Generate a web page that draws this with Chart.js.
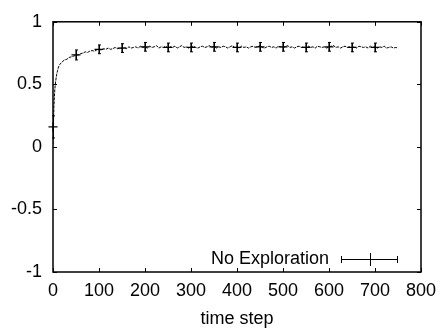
<!DOCTYPE html>
<html>
<head>
<meta charset="utf-8">
<script src="https://cdn.jsdelivr.net/npm/chart.js@4"></script>
<style>
  html, body { margin: 0; padding: 0; background: #fff; }
  #wrap { width: 445px; height: 332px; }
</style>
</head>
<body>
<div id="wrap"><canvas id="chart" width="445" height="332"></canvas></div>
<script>
// averaged reward curve (time step, value)
const curveSteps = [0, 1, 2, 3, 4, 5, 6, 8, 10, 12, 15, 20, 25, 30, 35, 40, 45, 50,
  55, 60, 65, 70, 75, 80, 85, 90, 95, 100, 105, 110, 115, 120, 125, 130, 135, 140, 145, 150,
  155, 160, 165, 170, 175, 180, 185, 190, 195, 200, 205, 210, 215, 220, 225, 230, 235, 240, 245, 250,
  255, 260, 265, 270, 275, 280, 285, 290, 295, 300, 305, 310, 315, 320, 325, 330, 335, 340, 345, 350,
  355, 360, 365, 370, 375, 380, 385, 390, 395, 400, 405, 410, 415, 420, 425, 430, 435, 440, 445, 450,
  455, 460, 465, 470, 475, 480, 485, 490, 495, 500, 505, 510, 515, 520, 525, 530, 535, 540, 545, 550,
  555, 560, 565, 570, 575, 580, 585, 590, 595, 600, 605, 610, 615, 620, 625, 630, 635, 640, 645, 650,
  655, 660, 665, 670, 675, 680, 685, 690, 695, 700, 705, 710, 715, 720, 725, 730, 735, 740, 745, 750];
const curveValues = [0.02, 0.20, 0.32, 0.40, 0.46, 0.50, 0.53, 0.58, 0.61, 0.64, 0.66, 0.68, 0.695, 0.70, 0.715, 0.72, 0.725, 0.735,
  0.735, 0.745, 0.75, 0.76, 0.755, 0.765, 0.77, 0.765, 0.775, 0.78, 0.775, 0.785, 0.78, 0.79, 0.78, 0.785, 0.795, 0.785, 0.79, 0.79,
  0.795, 0.785, 0.80, 0.79, 0.795, 0.80, 0.79, 0.805, 0.795, 0.80, 0.79, 0.805, 0.795, 0.80, 0.81, 0.79, 0.80, 0.795, 0.805, 0.79,
  0.80, 0.795, 0.805, 0.79, 0.80, 0.81, 0.795, 0.80, 0.79, 0.80, 0.805, 0.795, 0.79, 0.80, 0.805, 0.795, 0.80, 0.81, 0.795, 0.805,
  0.79, 0.80, 0.795, 0.805, 0.80, 0.79, 0.80, 0.81, 0.795, 0.80, 0.79, 0.805, 0.795, 0.80, 0.79, 0.80, 0.805, 0.795, 0.80, 0.81,
  0.795, 0.79, 0.80, 0.805, 0.795, 0.80, 0.79, 0.805, 0.80, 0.795, 0.80, 0.81, 0.795, 0.80, 0.79, 0.80, 0.805, 0.795, 0.80, 0.79,
  0.805, 0.795, 0.80, 0.79, 0.805, 0.80, 0.795, 0.80, 0.79, 0.80, 0.805, 0.81, 0.795, 0.80, 0.79, 0.80, 0.805, 0.795, 0.80, 0.795,
  0.80, 0.79, 0.805, 0.80, 0.795, 0.80, 0.79, 0.805, 0.795, 0.80, 0.79, 0.80, 0.795, 0.805, 0.79, 0.795, 0.80, 0.79, 0.795, 0.79];

// error bar samples every 50 steps
const barSteps = [0, 50, 100, 150, 200, 250, 300, 350, 400, 450, 500, 550, 600, 650, 700];
const barValues = [0.16, 0.735, 0.78, 0.79, 0.80, 0.795, 0.795, 0.80, 0.795, 0.80, 0.80, 0.795, 0.80, 0.795, 0.795];
const barErrors = [0.088, 0.04, 0.035, 0.035, 0.035, 0.035, 0.035, 0.035, 0.035, 0.035, 0.035, 0.035, 0.035, 0.035, 0.035];

const xTicks = [0, 100, 200, 300, 400, 500, 600, 700, 800];
const yTicks = [-1, -0.5, 0, 0.5, 1];
const seriesName = "No Exploration";

const FONT = { family: "'Liberation Sans', Arial, sans-serif", size: 18 };

const curveData = curveSteps.map((s, i) => ({ x: s, y: curveValues[i] }));
const barData = barSteps.map((s, i) => ({ x: s, y: barValues[i] }));

// gnuplot-like frame, inward ticks, error bars and key
const gnuplotLook = {
  id: "gnuplotLook",
  afterDatasetsDraw(chart) {
    const { ctx, chartArea: a, scales } = chart;
    const xs = scales.x, ys = scales.y;
    ctx.save();
    ctx.strokeStyle = "#000";
    ctx.lineWidth = 1;
    // error bars
    barSteps.forEach((s, i) => {
      const px = Math.round(xs.getPixelForValue(s)) + 0.5;
      const top = ys.getPixelForValue(barValues[i] + barErrors[i]);
      const bot = ys.getPixelForValue(barValues[i] - barErrors[i]);
      ctx.beginPath();
      ctx.moveTo(px, top); ctx.lineTo(px, bot);
      ctx.moveTo(px - 1.5, top); ctx.lineTo(px + 1.5, top);
      ctx.moveTo(px - 1.5, bot); ctx.lineTo(px + 1.5, bot);
      ctx.stroke();
    });
    // ticks on all four sides
    const tl = 4;
    ctx.beginPath();
    xTicks.forEach(v => {
      const px = Math.round(xs.getPixelForValue(v)) + 0.5;
      ctx.moveTo(px, a.bottom); ctx.lineTo(px, a.bottom - tl);
      ctx.moveTo(px, a.top); ctx.lineTo(px, a.top + tl);
    });
    yTicks.forEach(v => {
      const py = Math.round(ys.getPixelForValue(v)) + 0.5;
      ctx.moveTo(a.left, py); ctx.lineTo(a.left + tl, py);
      ctx.moveTo(a.right, py); ctx.lineTo(a.right - tl, py);
    });
    ctx.stroke();
    // frame
    ctx.lineWidth = 1.5;
    ctx.strokeRect(a.left, a.top, a.right - a.left, a.bottom - a.top);
    // key
    const ky = 259;
    ctx.fillStyle = "#000";
    ctx.font = FONT.size + "px " + FONT.family;
    ctx.textAlign = "right";
    ctx.textBaseline = "middle";
    ctx.fillText(seriesName, 329, ky);
    ctx.lineWidth = 1;
    ctx.beginPath();
    ctx.moveTo(341, ky + 0.5); ctx.lineTo(398, ky + 0.5);
    ctx.moveTo(341.5, ky - 3); ctx.lineTo(341.5, ky + 4);
    ctx.moveTo(397.5, ky - 3); ctx.lineTo(397.5, ky + 4);
    ctx.moveTo(370.5, ky - 6); ctx.lineTo(370.5, ky + 7);
    ctx.stroke();
    ctx.restore();
  }
};

new Chart(document.getElementById("chart"), {
  type: "scatter",
  data: {
    datasets: [
      {
        label: seriesName,
        data: curveData,
        showLine: true,
        borderColor: "#000",
        borderWidth: 1,
        borderDash: [3, 1],
        pointRadius: 0,
        tension: 0
      },
      {
        label: seriesName + " points",
        data: barData,
        showLine: false,
        clip: false,
        pointStyle: "cross",
        pointRadius: 4.5,
        pointBorderColor: "#000",
        pointBorderWidth: 1.2,
        borderColor: "#000"
      }
    ]
  },
  options: {
    responsive: false,
    animation: false,
    layout: { padding: { top: 17, right: 24, left: 0, bottom: 0 } },
    plugins: {
      legend: { display: false },
      tooltip: { enabled: false }
    },
    scales: {
      x: {
        type: "linear",
        min: 0,
        max: 800,
        afterBuildTicks: s => { s.ticks = xTicks.map(v => ({ value: v })); },
        afterFit: s => { s.height = 60; },
        grid: { display: false, drawTicks: false },
        border: { display: false },
        ticks: { color: "#000", font: FONT, padding: 8, maxRotation: 0 },
        title: { display: true, text: "time step", color: "#000", font: FONT, padding: { top: 0, bottom: 2 } }
      },
      y: {
        type: "linear",
        min: -1,
        max: 1,
        afterBuildTicks: s => { s.ticks = yTicks.map(v => ({ value: v })); },
        afterFit: s => { s.width = 53; },
        grid: { display: false, drawTicks: false },
        border: { display: false },
        ticks: { color: "#000", font: FONT, padding: 11, callback: v => String(v) }
      }
    }
  },
  plugins: [gnuplotLook]
});
</script>
</body>
</html>
